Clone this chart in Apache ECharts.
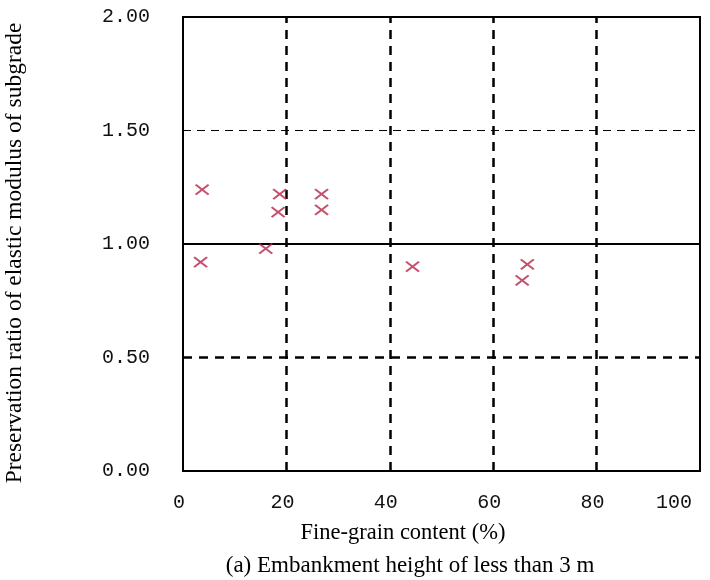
<!DOCTYPE html>
<html>
<head>
<meta charset="utf-8">
<script src="https://cdn.jsdelivr.net/npm/echarts@6/dist/echarts.min.js"></script>
<style>
  html, body { margin: 0; padding: 0; background: #fff; }
  #main { width: 710px; height: 580px; }
</style>
</head>
<body>
<div id="main"></div>
<script>
// fine-grain content (%) and preservation ratio
const fineGrain = [3.7, 3.4, 16.0, 18.7, 18.4, 26.8, 26.8, 44.4, 66.6, 65.6];
const ratio     = [1.24, 0.92, 0.98, 1.22, 1.14, 1.22, 1.15, 0.90, 0.91, 0.84];

const xTicks = [0, 20, 40, 60, 80, 100];
const yTicks = [0, 0.5, 1.0, 1.5, 2.0];

const vLines = [20, 40, 60, 80];
const hThinDashed = [1.5];
const hSolid = [1.0];
const hThickDashed = [0.5];

const points = fineGrain.map((x, i) => [x, ratio[i]]);

const thickDash = { color: '#000', width: 2.5, type: [9, 7] };
const thinDash = { color: '#000', width: 1.2, type: [8, 6] };
const solid = { color: '#000', width: 2, type: 'solid' };

const marks = []
  .concat(vLines.map(v => ({ xAxis: v, lineStyle: thickDash })))
  .concat(hThinDashed.map(v => ({ yAxis: v, lineStyle: thinDash })))
  .concat(hSolid.map(v => ({ yAxis: v, lineStyle: solid })))
  .concat(hThickDashed.map(v => ({ yAxis: v, lineStyle: thickDash })));

const chart = echarts.init(document.getElementById('main'));
chart.setOption({
  animation: false,
  backgroundColor: '#fff',
  grid: {
    left: 183, top: 17, right: 10, bottom: 109,
    outerBoundsMode: 'none', containLabel: false,
    show: true, borderColor: '#000', borderWidth: 2, backgroundColor: 'transparent'
  },
  xAxis: {
    type: 'value', min: 0, max: 100, interval: 20,
    axisLine: { show: true, lineStyle: { color: '#000', width: 2 } },
    axisTick: { show: false },
    splitLine: { show: false },
    axisLabel: {
      color: '#111', fontFamily: 'Liberation Mono', fontSize: 20, margin: 22,
      padding: [0, 8, 0, 0],
      alignMaxLabel: 'right',
      formatter: v => xTicks.includes(v) ? String(v) : ''
    }
  },
  yAxis: {
    type: 'value', min: 0, max: 2, interval: 0.5,
    axisLine: { show: true, lineStyle: { color: '#000', width: 2 } },
    axisTick: { show: false },
    splitLine: { show: false },
    axisLabel: {
      color: '#111', fontFamily: 'Liberation Mono', fontSize: 20, margin: 33,
      formatter: v => yTicks.some(t => Math.abs(t - v) < 1e-9) ? v.toFixed(2) : ''
    }
  },
  graphic: [
    {
      type: 'text',
      x: 403, y: 533,
      style: {
        text: 'Fine-grain content (%)',
        font: '22.5px "Liberation Serif"', fill: '#000',
        textAlign: 'center', textVerticalAlign: 'middle'
      }
    },
    {
      type: 'text',
      x: 410, y: 566,
      style: {
        text: '(a) Embankment height of less than 3 m',
        font: '23px "Liberation Serif"', fill: '#000',
        textAlign: 'center', textVerticalAlign: 'middle'
      }
    },
    {
      type: 'text',
      x: 15, y: 253, rotation: Math.PI / 2,
      style: {
        text: 'Preservation ratio of elastic modulus of subgrade',
        font: '23.5px "Liberation Serif"', fill: '#000',
        textAlign: 'center', textVerticalAlign: 'middle'
      }
    }
  ],
  series: [
    {
      type: 'scatter',
      data: points,
      symbol: 'path://M0,0L13,10M13,0L0,10',
      symbolSize: [13, 10],
      itemStyle: { color: 'transparent', borderColor: '#b52548', borderWidth: 2 },
      markLine: {
        silent: true,
        symbol: 'none',
        label: { show: false },
        data: marks
      },
      z: 5
    }
  ]
});
</script>
</body>
</html>
